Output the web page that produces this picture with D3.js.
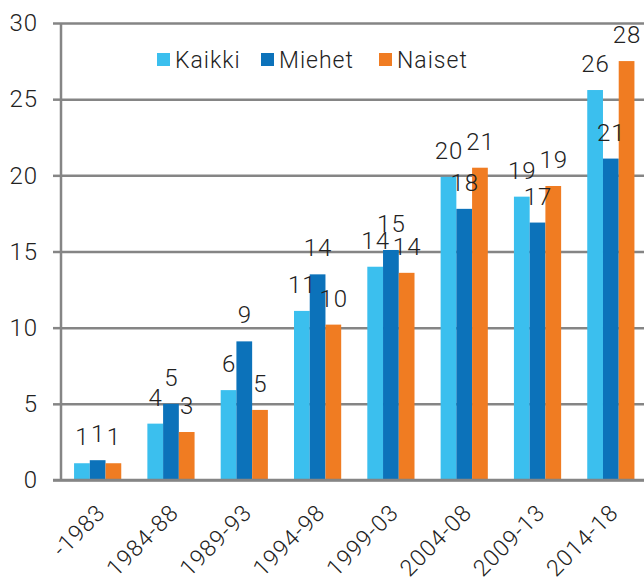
<!doctype html>
<html>
<head>
<meta charset="utf-8">
<script src="https://d3js.org/d3.v7.min.js"></script>
<style>
  body { margin: 0; background: #fff; }
  text { font-family: Roboto, "Liberation Sans", sans-serif; font-weight: 300; fill: #222; letter-spacing: 1px; }
</style>
</head>
<body>
<script>
    // categories and series
    var periods = ["-1983", "1984-88", "1989-93", "1994-98", "1999-03", "2004-08", "2009-13", "2014-18"];
    var seriesNames = ["Kaikki", "Miehet", "Naiset"];
    var kaikki = [1.1, 3.7, 5.9, 11.1, 14.0, 19.9, 18.6, 25.6];
    var miehet = [1.3, 5.0, 9.1, 13.5, 15.1, 17.8, 16.9, 21.1];
    var naiset = [1.1, 3.15, 4.6, 10.2, 13.6, 20.5, 19.3, 27.5];
    var yTicks = [0, 5, 10, 15, 20, 25, 30];

    var colors = ["#3bbfee", "#0c72ba", "#f07c22"];

    var width = 644, height = 577;

    var svg = d3.select("body")
        .append("svg")
        .attr("width", width)
        .attr("height", height);

    var x0 = d3.scaleBand()
        .domain(periods)
        .range([61, 647.5])
        .padding(0);

    var x1 = d3.scaleBand()
        .domain(seriesNames)
        .range([0, x0.bandwidth()])
        .paddingInner(0)
        .paddingOuter(0.83);

    var y = d3.scaleLinear()
        .domain([0, 30])
        .range([480, 23]);

    var color = d3.scaleOrdinal().domain(seriesNames).range(colors);

    // gridlines + y labels
    svg.append("g")
        .attr("transform", "translate(61,0)")
        .call(d3.axisLeft(y).tickValues(yTicks).tickSize(8).tickPadding(15).tickSizeOuter(0))
        .call(g => g.select(".domain").remove())
        .call(g => g.selectAll(".tick line").attr("stroke", "#858585").attr("stroke-width", 2.5))
        .call(g => g.selectAll(".tick text").attr("font-size", "24px").attr("fill", "#222"))
        .call(g => g.selectAll(".tick").append("line")
            .attr("x1", 0).attr("x2", width)
            .attr("stroke", "#858585").attr("stroke-width", 2.5));

    // bars
    var rows = periods.map(function(p, i) {
        return {period: p, values: [kaikki[i], miehet[i], naiset[i]]};
    });

    var groups = svg.selectAll(".grp")
        .data(rows)
        .enter().append("g")
        .attr("class", "grp")
        .attr("transform", function(d) { return "translate(" + x0(d.period) + ",0)"; });

    groups.selectAll("rect")
        .data(function(d) { return d.values.map(function(v, j) { return {key: seriesNames[j], value: v}; }); })
        .enter().append("rect")
        .attr("x", function(d) { return x1(d.key); })
        .attr("y", function(d) { return y(d.value); })
        .attr("width", x1.bandwidth())
        .attr("height", function(d) { return y(0) - y(d.value); })
        .attr("fill", function(d) { return color(d.key); });

    groups.selectAll(".lbl")
        .data(function(d) { return d.values.map(function(v, j) { return {key: seriesNames[j], value: v}; }); })
        .enter().append("text")
        .attr("class", "lbl")
        .attr("x", function(d) { return x1(d.key) + x1.bandwidth() / 2 + 0.5; })
        .attr("y", function(d) { return y(d.value) - 18; })
        .attr("text-anchor", "middle")
        .attr("font-size", "24px")
        .text(function(d) { return Math.round(d.value); });

    // axis lines
    svg.append("line")
        .attr("x1", 61).attr("x2", 61).attr("y1", 23).attr("y2", 480)
        .attr("stroke", "#858585").attr("stroke-width", 2.5);
    svg.append("line")
        .attr("x1", 53).attr("x2", width).attr("y1", 480).attr("y2", 480)
        .attr("stroke", "#858585").attr("stroke-width", 2.5);

    // x labels
    svg.selectAll(".xl")
        .data(periods)
        .enter().append("text")
        .attr("class", "xl")
        .attr("font-size", "23px")
        .attr("text-anchor", "end")
        .attr("transform", function(d) {
            return "translate(" + (x0(d) + x0.bandwidth() / 2 + 9) + ",514) rotate(-45)";
        })
        .text(function(d) { return d; });

    // legend
    var legendX = [157, 261, 379];
    var legend = svg.selectAll(".leg")
        .data(seriesNames)
        .enter().append("g")
        .attr("class", "leg")
        .attr("transform", function(d, i) { return "translate(" + legendX[i] + ",53)"; });
    legend.append("rect")
        .attr("width", 13).attr("height", 13)
        .attr("fill", function(d) { return color(d); });
    legend.append("text")
        .attr("x", 18).attr("y", 15)
        .attr("font-size", "23px")
        .text(function(d) { return d; });
</script>
</body>
</html>
